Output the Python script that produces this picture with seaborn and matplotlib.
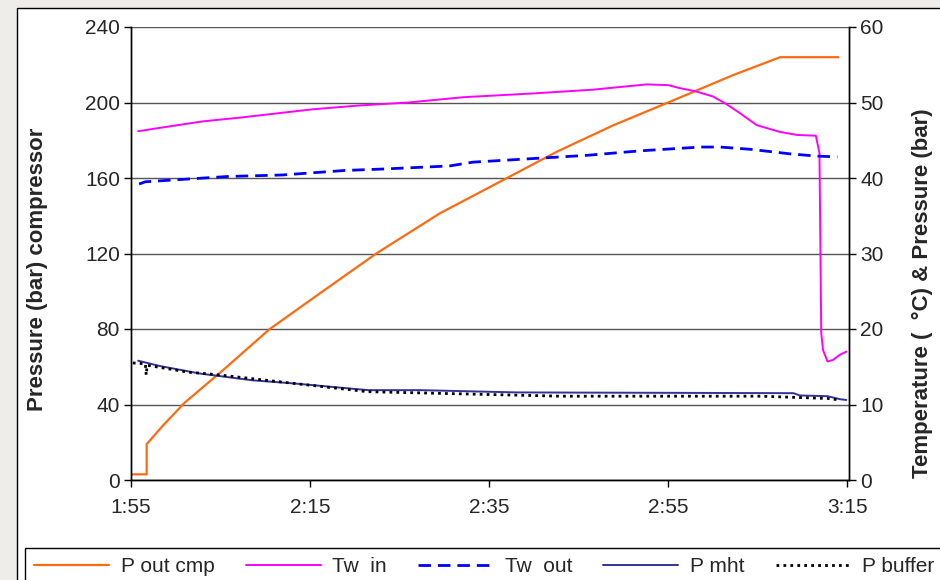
import numpy as np
import pandas as pd
import seaborn as sns
import matplotlib.pyplot as plt
from matplotlib.patches import Rectangle

## time axis in minutes after 1:55

# P out cmp (left axis, bar)
t_pcmp = [0, 1.75, 1.75, 3.5, 6.0, 10.3, 15.5, 21.1, 27.4, 34.5, 41.2, 47.6, 53.9, 60, 67.3, 72.5, 79]
p_cmp = [3, 3, 19, 28.5, 41, 58.3, 80, 98.9, 120, 141.3, 158, 174, 188, 200, 214.6, 224, 224]

# Tw in (right axis, degC)
t_twin = [0.8, 4.1, 8.0, 12.2, 16.6, 20.3, 25.4, 31, 37.1, 44.9, 51.6, 57.6, 60, 61.3, 63, 65, 66.5,
          68, 69.9, 72.5, 74.4, 76.5, 76.9, 77.1, 77.3, 77.8, 78.4, 79.2, 79.9]
tw_in = [46.2, 46.8, 47.5, 48.0, 48.6, 49.1, 49.6, 50.0, 50.7, 51.2, 51.7, 52.4, 52.3, 51.9, 51.5, 50.8, 49.8,
         48.6, 47.0, 46.1, 45.7, 45.6, 43.3, 19.5, 17.2, 15.7, 15.9, 16.6, 17.0]

# Tw out (right axis, degC)
t_twout = [0.9, 1.6, 10.8, 16.9, 23.9, 28.4, 32, 35.6, 38.2, 50.9, 56.9, 63.6, 65.8, 69.2, 73.6, 76.6, 78.9]
tw_out = [39.2, 39.5, 40.2, 40.4, 41.0, 41.2, 41.4, 41.6, 42.1, 43.0, 43.6, 44.1, 44.1, 43.8, 43.2, 42.9, 42.8]

# P mht (right axis, bar)
t_pmht = [0.8, 3.2, 7.7, 13.6, 18.1, 26.5, 32.3, 43.1, 74, 74.7, 77.8, 79.2, 79.9]
p_mht = [15.8, 15.1, 14.1, 13.2, 12.8, 11.9, 11.9, 11.6, 11.5, 11.2, 11.1, 10.7, 10.6]

# P buffer (right axis, bar)
t_pbuf = [0.2, 1.6, 1.7, 1.8, 6.3, 10, 17.4, 26.4, 48, 70.3, 77.8, 79.2]
p_buf = [15.5, 15.4, 13.9, 15.2, 14.3, 13.9, 12.9, 11.7, 11.1, 11.1, 10.8, 10.6]

xtick_pos = [0, 20, 40, 60, 80]
xtick_lab = ['1:55', '2:15', '2:35', '2:55', '3:15']

sns.set_style('white')
plt.rcParams['font.family'] = ['Liberation Sans', 'DejaVu Sans']

fig = plt.figure(figsize=(9.4, 5.8), dpi=100)
fig.patch.set_facecolor('#efedea')
fig.patches.append(Rectangle((17/940, -0.01), 1.0, 1 - 8/580 + 0.01, transform=fig.transFigure,
                             facecolor='white', edgecolor='black', lw=1, zorder=-1))

ax = fig.add_axes([131/940, 1 - 480/580, (849 - 131)/940, 453/580])
ax.patch.set_alpha(0)
ax2 = ax.twinx()

sns.lineplot(x=t_pcmp, y=p_cmp, ax=ax, color='#ff6a10', lw=1.6, sort=False, estimator=None, label='P out cmp')
sns.lineplot(x=t_twin, y=tw_in, ax=ax2, color='#ff00ff', lw=1.4, sort=False, estimator=None, label='Tw  in')
sns.lineplot(x=t_twout, y=tw_out, ax=ax2, color='#0000ff', lw=2.0, sort=False, estimator=None, label='Tw  out',
             dashes=False, linestyle=(0, (4.5, 2.5)))
sns.lineplot(x=t_pmht, y=p_mht, ax=ax2, color='#333399', lw=1.4, sort=False, estimator=None, label='P mht')
sns.lineplot(x=t_pbuf, y=p_buf, ax=ax2, color='black', lw=2.0, sort=False, estimator=None, label='P buffer',
             dashes=False, linestyle=(0, (1, 1.5)))

h1, l1 = ax.get_legend_handles_labels()
h2, l2 = ax2.get_legend_handles_labels()
for a in (ax, ax2):
    if a.get_legend() is not None:
        a.get_legend().remove()

ax.set_xlim(0, 80.2)
ax.set_ylim(0, 240)
ax2.set_ylim(0, 60)
ax.set_yticks(range(0, 241, 40))
ax2.set_yticks(range(0, 61, 10))
ax.set_xticks(xtick_pos)
ax.set_xticklabels(xtick_lab)

ax.yaxis.grid(True, color='#555555', lw=1.0)
ax.set_axisbelow(True)

for a in (ax, ax2):
    a.spines['top'].set_visible(False)
    for s in ('left', 'right', 'bottom'):
        a.spines[s].set_color('black')
        a.spines[s].set_linewidth(1.0)

ax.tick_params(axis='both', which='major', direction='out', length=5, width=1, color='black',
               labelsize=15, left=True, bottom=True, pad=3)
ax.tick_params(axis='x', pad=8)
ax2.tick_params(axis='y', direction='out', length=5, width=1, color='black', labelsize=15, right=True, pad=3)

ax.set_ylabel('Pressure (bar) compressor', fontsize=16, fontweight='bold')
ax.yaxis.set_label_coords(-0.1156, 0.466)
ax2.set_ylabel('Temperature (  °C) & Pressure (bar)', fontsize=16, fontweight='bold')
ax2.yaxis.set_label_coords(1.0877, 0.413)

leg = fig.legend(h1 + h2, l1 + l2, loc='upper left', bbox_to_anchor=(25/940, 32/580), ncol=5,
                 frameon=True, fancybox=False, edgecolor='black', fontsize=15, handlelength=3.6,
                 handletextpad=0.55, columnspacing=1.5, borderaxespad=0, borderpad=0.45, framealpha=1)
leg.get_frame().set_linewidth(1.0)

fig.savefig('out.png', dpi=100, facecolor=fig.get_facecolor())
